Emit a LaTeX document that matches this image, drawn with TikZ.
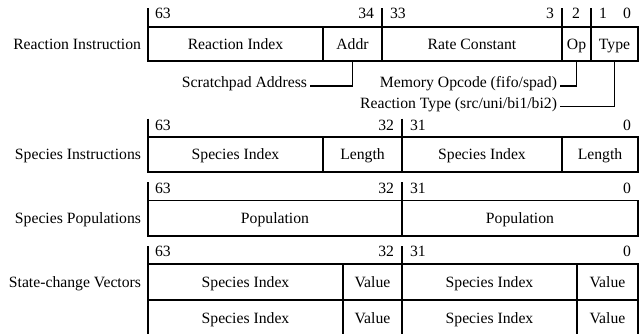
\documentclass[tikz,border=0pt]{standalone}
\usepackage{fontspec}
\setmainfont{Liberation Serif}
\newcommand\mycell[6]{\node[cell, minimum width={(#3)-(#2)}, minimum height={(#5)-(#4)}] (#1) at ({((#2)+(#3))/2},{((#4)+(#5))/2}) {#6};}
\begin{document}
\begin{tikzpicture}[x=1pt,y=-1pt,
  every node/.style={font=\fontsize{15.7}{18}\selectfont, inner sep=0pt, outer sep=0pt},
  cell/.style={draw, line width=1.8pt, text height=12.5pt, text depth=2pt},
  rowlabel/.style={anchor=east, text height=12.5pt, text depth=2pt},
  bitl/.style={anchor=base west},
  bitr/.style={anchor=base east},
  bitc/.style={anchor=base},
  tick/.style={line width=1.5pt},
  callout/.style={anchor=east, inner xsep=3pt, text height=7pt, text depth=3pt},
  conn/.style={line width=1.1pt},
]
\useasboundingbox (0,0) rectangle (639,334);
\clip (0,0) rectangle (639,334);

% ---------- Row 1: Reaction Instruction ----------
\node[rowlabel] (l1) at (141,44) {Reaction Instruction};
\mycell{ri}{148}{323}{27}{61}{Reaction Index}
\mycell{addr}{323}{382}{27}{61}{Addr}
\mycell{rate}{382}{562}{27}{61}{Rate Constant}
\mycell{op}{562}{591}{27}{61}{Op}
\mycell{type}{591}{638}{27}{61}{Type}
\coordinate (t1a) at (148,8.5);
\coordinate (t1b) at (382,8.5);
\coordinate (t1c) at (562,8.5);
\coordinate (t1d) at (591,8.5);
\draw[tick] (t1a) -- (ri.north west);
\draw[tick] (t1b) -- (rate.north west);
\draw[tick] (t1c) -- (op.north west);
\draw[tick] (t1d) -- (type.north west);
\node[bitl] (b1a) at (155,19) {63};
\node[bitr] (b1b) at (374,19) {34};
\node[bitl] (b1c) at (390,19) {33};
\node[bitr] (b1d) at (554,19) {3};
\node[bitc] (b1e) at (576,19) {2};
\node[bitl] (b1f) at (599,19) {1};
\node[bitr] (b1g) at (631,19) {0};

\node[callout] (scr) at (310,86) {Scratchpad Address};
\node[callout] (mem) at (560,86) {Memory Opcode (fifo/spad)};
\node[callout] (rty) at (560,106.5) {Reaction Type (src/uni/bi1/bi2)};
\draw[conn] (addr.south) |- (scr.east);
\draw[conn] (op.south) |- (mem.east);
\draw[conn] (type.south) |- (rty.east);

% ---------- Row 2: Species Instructions ----------
\node[rowlabel] (l2) at (141,154.5) {Species Instructions};
\mycell{si1}{148}{323}{137}{172}{Species Index}
\mycell{len1}{323}{402}{137}{172}{Length}
\mycell{si2}{402}{562}{137}{172}{Species Index}
\mycell{len2}{562}{638}{137}{172}{Length}
\coordinate (t2a) at (148,118.5);
\coordinate (t2b) at (402,118.5);
\draw[tick] (t2a) -- (si1.north west);
\draw[tick] (t2b) -- (si2.north west);
\node[bitl] (b2a) at (155,130) {63};
\node[bitr] (b2b) at (394,130) {32};
\node[bitl] (b2c) at (410,130) {31};
\node[bitr] (b2d) at (631,130) {0};

% ---------- Row 3: Species Populations ----------
\node[rowlabel] (l3) at (141,218.25) {Species Populations};
\mycell{pop1}{148}{402}{200.5}{236}{Population}
\mycell{pop2}{402}{638}{200.5}{236}{Population}
\coordinate (t3a) at (148,182);
\coordinate (t3b) at (402,182);
\draw[tick] (t3a) -- (pop1.north west);
\draw[tick] (t3b) -- (pop2.north west);
\node[bitl] (b3a) at (155,193.5) {63};
\node[bitr] (b3b) at (394,193.5) {32};
\node[bitl] (b3c) at (410,193.5) {31};
\node[bitr] (b3d) at (631,193.5) {0};

% ---------- Row 4: State-change Vectors ----------
\node[rowlabel] (l4) at (141,282) {State-change Vectors};
\mycell{sa1}{148}{343}{264}{300}{Species Index}
\mycell{va1}{343}{402}{264}{300}{Value}
\mycell{sa2}{402}{577}{264}{300}{Species Index}
\mycell{va2}{577}{638}{264}{300}{Value}
\mycell{sb1}{148}{343}{300}{336}{Species Index}
\mycell{vb1}{343}{402}{300}{336}{Value}
\mycell{sb2}{402}{577}{300}{336}{Species Index}
\mycell{vb2}{577}{638}{300}{336}{Value}
\coordinate (t4a) at (148,246);
\coordinate (t4b) at (402,246);
\draw[tick] (t4a) -- (sa1.north west);
\draw[tick] (t4b) -- (sa2.north west);
\node[bitl] (b4a) at (155,256.5) {63};
\node[bitr] (b4b) at (394,256.5) {32};
\node[bitl] (b4c) at (410,256.5) {31};
\node[bitr] (b4d) at (631,256.5) {0};
\end{tikzpicture}
\end{document}
